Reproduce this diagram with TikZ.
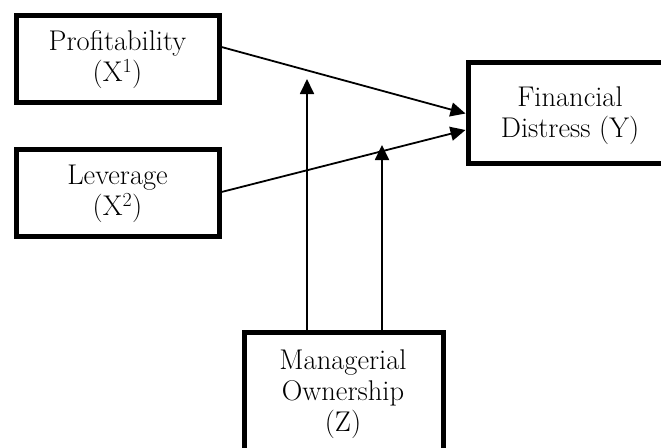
\documentclass[tikz,border=0pt]{standalone}
\usetikzlibrary{arrows.meta,calc}
\begin{document}
\begin{tikzpicture}[x=1pt,y=-1pt,
  boxnode/.style={draw,line width=5pt,inner sep=0pt},
  lbl/.style={align=center,font=\fontsize{28.5}{31}\selectfont,inner sep=0pt},
  conn/.style={line width=1.8pt,-{Triangle[length=15pt,width=14pt]}}]
\useasboundingbox (0,0) rectangle (661,447);
\clip (0,0) rectangle (661,447);
% boxes
\node[boxnode,minimum width=203pt,minimum height=87pt] (P) at (117.5,58.5) {};
\node[boxnode,minimum width=203pt,minimum height=87pt] (L) at (117.5,192.5) {};
\node[boxnode,minimum width=204pt,minimum height=101pt] (Y) at (570,112.5) {};
\node[boxnode,minimum width=199pt,minimum height=130pt] (Z) at (343.5,397) {};
% texts
\node[lbl] (tP) at (117.5,60) {Profitability\\(X\textsuperscript{1})};
\node[lbl] (tL) at (117.5,194) {Leverage\\(X\textsuperscript{2})};
\node[lbl] (tY) at (570,116) {Financial\\Distress (Y)};
\node[lbl] (tZ) at (343,394) {Managerial\\Ownership\\(Z)};
% connectors
\draw[conn] ($(P.east)+(0,-11.5)$) -- ($(Y.west)+(0,1)$);
\draw[conn] ($(L.east)+(0,-0.5)$) -- ($(Y.west)+(0,17.5)$);
\coordinate (m1) at (307,79);
\coordinate (m2) at (382,145);
\draw[conn] (Z.north -| m1) -- (m1);
\draw[conn] (Z.north -| m2) -- (m2);
\end{tikzpicture}
\end{document}
